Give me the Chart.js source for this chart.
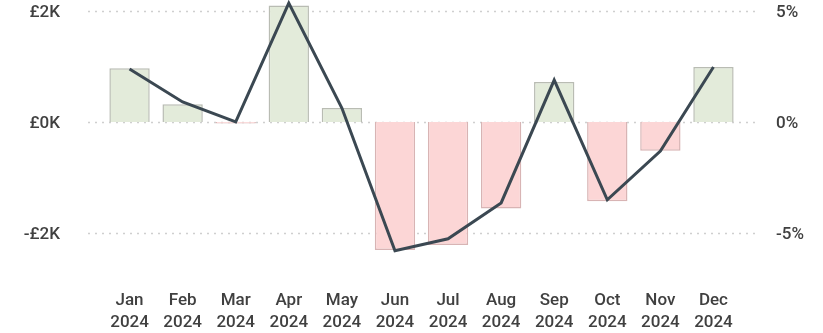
<!DOCTYPE html>
<html><head><meta charset="utf-8">
<script src="https://cdn.jsdelivr.net/npm/chart.js@4"></script>
<style>html,body{margin:0;padding:0;background:#fff}#wrap{width:823px;height:333px}</style>
</head><body><div id="wrap"><canvas id="c" width="823" height="333"></canvas></div>
<script>
const months = ["Jan","Feb","Mar","Apr","May","Jun","Jul","Aug","Sep","Oct","Nov","Dec"];
const year = "2024";
const varianceK = [0.97, 0.32, -0.03, 2.1, 0.25, -2.31, -2.22, -1.56, 0.72, -1.43, -0.52, 0.99];
const variancePct = [2.39, 0.9, 0.0, 5.36, 0.63, -5.81, -5.27, -3.65, 1.89, -3.51, -1.31, 2.48];
const leftTicks = [-2, 0, 2];
const rightTicks = [-5, 0, 5];

const gridPlugin = {
  id: 'extGrid',
  beforeDatasetsDraw(chart) {
    const {ctx, chartArea, scales} = chart;
    ctx.save();
    ctx.strokeStyle = '#cfcfcf';
    ctx.lineWidth = 1.5;
    ctx.setLineDash([2, 5]);
    leftTicks.forEach(v => {
      const y = Math.round(scales.y.getPixelForValue(v)) + 0.5;
      ctx.beginPath();
      ctx.moveTo(chartArea.left - 15, y);
      ctx.lineTo(chartArea.right + 15, y);
      ctx.stroke();
    });
    ctx.restore();
  }
};

const font = {family: 'Roboto', size: 17, weight: '500'};
function noPad(s) { s.paddingTop = 0; s.paddingBottom = 0; s.paddingLeft = 0; s.paddingRight = 0; }
new Chart(document.getElementById('c'), {
  data: {
    labels: months.map(m => [m, year]),
    datasets: [
      {
        type: 'line', data: variancePct, yAxisID: 'y1',
        borderColor: '#3b4852', borderWidth: 3, pointRadius: 0, tension: 0, order: 0, clip: false
      },
      {
        type: 'bar', data: varianceK, yAxisID: 'y',
        backgroundColor: varianceK.map(v => v >= 0 ? '#e3ebda' : '#fcd6d6'),
        borderColor: varianceK.map(v => v >= 0 ? '#b9bcb3' : '#d8b4b4'),
        borderWidth: 1.5, categoryPercentage: 1, barPercentage: 0.76, order: 1, clip: false
      }
    ]
  },
  options: {
    responsive: false, animation: false,
    layout: {padding: 0},
    plugins: {legend: {display: false}, tooltip: {enabled: false}},
    scales: {
      x: {
        grid: {display: false}, border: {display: false},
        ticks: {font: {...font, lineHeight: 1.3}, color: '#404040', padding: 27, maxRotation: 0, autoSkip: false},
        afterFit(s) { s.height = 78; noPad(s); }
      },
      y: {
        position: 'left', min: -2.4, max: 2.2,
        grid: {display: false}, border: {display: false},
        afterBuildTicks(s) { s.ticks = leftTicks.map(v => ({value: v})); },
        ticks: {font, color: '#404040', padding: 35, labelOffset: 2,
          callback: v => (v < 0 ? '-£' : '£') + Math.abs(v) + 'K'},
        afterFit(s) { s.width = 103; noPad(s); }
      },
      y1: {
        position: 'right', min: -6, max: 5.5,
        grid: {display: false}, border: {display: false},
        afterBuildTicks(s) { s.ticks = rightTicks.map(v => ({value: v})); },
        ticks: {font, color: '#404040', padding: 28, labelOffset: 2,
          callback: v => v + '%'},
        afterFit(s) { s.width = 83; noPad(s); }
      }
    }
  },
  plugins: [gridPlugin]
});
</script></body></html>
